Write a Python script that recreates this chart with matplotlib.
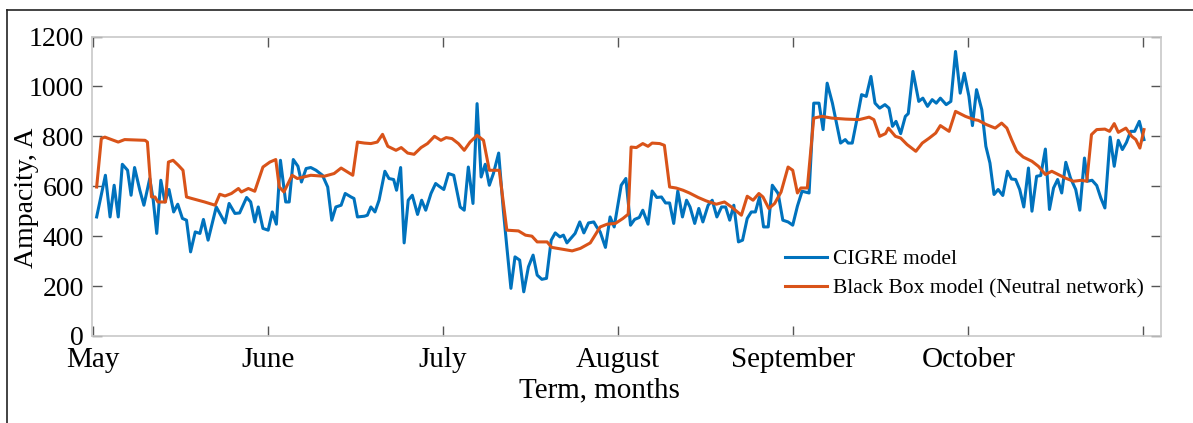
import matplotlib
matplotlib.use("Agg")
import matplotlib.pyplot as plt
from matplotlib.lines import Line2D

plt.rcParams["font.family"] = ["Liberation Serif", "DejaVu Serif"]

# day index from 1 May, ampacity in A
cigre_days = [
    0.6, 2.1, 2.9, 3.6, 4.3, 5.0, 5.9, 6.5, 7.1, 8.0, 8.7, 9.7, 10.3, 10.9, 11.6,
    12.3, 13.0, 13.8, 14.5, 15.3, 16.0, 16.7, 17.5, 18.3, 18.9, 19.7, 21.1, 22.6,
    23.3, 24.3, 25.1, 26.3, 27.0, 27.7, 28.3, 29.1, 30.0, 30.7, 31.4, 32.1, 32.5,
    33.0, 33.6, 34.3, 35.1, 35.7, 36.5, 37.3, 38.2, 39.3, 40.2, 40.9, 41.6, 42.5,
    43.2, 44.2, 44.7, 45.3, 46.5, 47.0, 47.6, 48.3, 49.0, 50.0, 50.7, 51.5, 52.0,
    52.7, 53.3, 54.0, 54.7, 55.6, 56.3, 57.0, 57.9, 58.7, 59.3, 60.1, 60.9, 61.8,
    62.9, 63.6, 64.3, 65.1, 65.8, 66.5, 67.2, 67.9, 68.6, 69.5, 70.3, 70.9, 71.6,
    72.3, 73.1, 73.8, 74.6, 75.4, 76.1, 76.9, 77.7, 78.5, 79.2, 80.0, 80.6, 81.2,
    82.1, 82.6, 83.4, 84.1, 84.9, 85.8, 86.3, 86.9, 87.8, 88.6, 89.3, 90.5, 91.3,
    92.1, 92.8, 93.6, 94.2, 95.1, 95.8, 96.6, 97.4, 98.1, 98.8, 99.5, 100.2, 101.0,
    101.7, 102.3, 103.1, 103.8, 104.5, 105.4, 106.1, 106.9, 107.7, 108.4, 109.1,
    109.8, 110.6, 111.3, 112.1, 112.8, 113.5, 114.2, 114.9, 115.7, 116.4, 117.4,
    118.2, 119.1, 119.9, 120.7, 121.5, 122.7, 123.5, 124.4, 125.1, 125.8, 126.7,
    127.4, 128.1, 128.9, 129.4, 130.1, 131.0, 131.7, 132.5, 133.3, 134.0, 134.8,
    135.7, 136.4, 137.0, 137.6, 138.4, 139.2, 139.7, 140.5, 141.5, 142.2, 143.0,
    143.8, 144.5, 145.2, 146.2, 147.0, 147.8, 148.6, 149.3, 150.1, 150.7, 151.4,
    152.3, 153.0, 153.7, 154.4, 155.1, 155.9, 156.7, 157.4, 158.1, 158.8, 159.5,
    160.3, 160.9, 161.7, 162.4, 163.2, 163.9, 164.6, 165.3, 166.0, 166.7, 167.5,
    168.4, 169.1, 169.9, 170.4, 171.2, 172.0, 172.7, 173.4, 174.3, 175.0, 175.7,
    176.4, 177.1, 177.8, 178.5, 179.3, 180.1,
]
cigre_values = [
    477, 644, 477, 604, 477, 688, 664, 564, 675, 584, 524, 631, 544, 411, 624,
    537, 587, 497, 528, 471, 464, 337, 417, 411, 467, 384, 517, 453,
    531, 491, 493, 555, 537, 457, 517, 431, 424, 497, 448, 704, 631,
    537, 537, 707, 680, 617, 671, 675, 664, 644, 597, 464, 517, 524,
    571, 557, 551, 477, 480, 484, 517, 497, 544, 660, 631, 627, 584,
    675, 373, 544, 564, 487, 544, 504, 571, 611, 600, 587, 651, 644,
    517, 504, 677, 531, 931, 637, 688, 604, 651, 733, 504, 357, 191,
    317, 304, 177, 277, 324, 244, 227, 231, 384, 413, 397, 404, 373,
    397, 411, 457, 413, 453, 457, 437, 417, 355, 477, 437, 604, 631,
    444, 467, 475, 504, 448, 581, 555, 557, 533, 533, 451, 581, 477,
    544, 517, 451, 511, 457, 524, 544, 477, 517, 517, 464,
    524, 377, 384, 471, 497, 497, 557, 437, 437, 604, 571,
    464, 457, 444, 520, 580, 573, 933, 933, 827, 1013, 933,
    853, 773, 787, 773, 773, 880, 967, 960, 1040, 933, 913,
    927, 913, 840, 860, 811, 880, 891, 1060, 940, 953, 920,
    947, 933, 953, 927, 940, 1140, 973, 1053, 960, 843, 987,
    907, 760, 693, 567, 587, 563, 660, 629, 627, 587, 517,
    673, 500, 640, 643, 749, 507, 593, 627, 573, 696, 633,
    587, 504, 713, 620, 624, 603, 553, 513, 797, 680, 784,
    747, 776, 820, 820, 860, 787,
]

blackbox_days = [
    0.6, 1.4, 2.0, 4.3, 5.4, 8.9, 9.3, 10.0, 10.6, 11.1, 12.4, 12.9, 13.7, 14.6,
    15.4, 16.0, 16.9, 19.1, 20.9, 21.7, 22.6, 23.7, 24.9, 25.4, 26.6, 27.7, 29.1,
    30.3, 31.3, 31.9, 32.7, 34.1, 35.0, 37.3, 39.6, 41.3, 42.5, 44.5, 45.3, 46.5,
    47.6, 48.7, 49.6, 50.5, 51.9, 52.8, 53.9, 55.0, 56.2, 57.3, 58.5, 59.6, 60.5,
    61.5, 62.6, 63.6, 64.6, 65.8, 66.9, 67.9, 69.6, 70.9, 72.9, 74.1, 75.2, 76.1,
    77.8, 78.6, 80.6, 82.1, 83.5, 85.2, 86.9, 88.1, 89.5, 90.8, 91.7, 92.2, 93.1,
    94.2, 95.1, 95.8, 97.1, 97.9, 98.8, 99.9, 101.1, 102.2, 103.7, 105.1, 106.8,
    108.2, 109.4, 111.1, 112.1, 113.1, 114.1, 114.8, 115.8, 116.8, 117.9, 119.1,
    119.9, 120.7, 121.3, 122.4, 123.5, 124.9, 126.6, 129.0, 131.3, 133.0, 133.8,
    134.8, 135.8, 136.3, 137.5, 138.4, 139.5, 141.0, 142.1, 143.3, 144.4, 145.2,
    146.7, 147.8, 149.5, 151.0, 151.7, 153.1, 154.6, 155.7, 156.6, 157.4, 158.3,
    159.4, 160.9, 162.0, 163.2, 164.3, 165.4, 166.6, 168.0, 169.4, 170.3, 171.1,
    172.0, 173.4, 174.2, 175.0, 175.7, 177.0, 178.0, 178.7, 179.4, 180.1,
]
blackbox_values = [
    597, 791, 797, 777, 787, 784, 777, 557, 557, 537, 537, 697, 704, 684,
    664, 557, 551, 537, 524, 568, 561, 571, 591, 577, 591, 580, 677,
    697, 707, 597, 577, 644, 631, 644, 640, 651, 673, 644, 777, 773,
    771, 777, 808, 760, 744, 755, 733, 728, 755, 771, 800, 784, 795,
    791, 771, 744, 777, 804, 784, 664, 664, 424, 421, 404, 400, 377,
    377, 355, 347, 341, 351, 373, 437, 448, 451, 471, 488, 757, 755,
    771, 760, 773, 771, 764, 597, 593, 584, 573, 555, 541, 528,
    537, 517, 484, 560, 544, 571, 557, 511, 531, 577, 677,
    664, 573, 593, 593, 873, 880, 873, 869, 867, 877, 867,
    800, 811, 833, 800, 793, 767, 740, 773, 793, 813, 843,
    820, 900, 880, 867, 864, 847, 833, 853, 833, 787, 740,
    717, 700, 680, 647, 660, 647, 633, 620, 624, 620, 807,
    827, 829, 820, 851, 816, 833, 800, 787, 753, 827,
]

month_ticks = [0, 30, 60, 90, 120, 150, 180]
month_labels = ["May", "June", "July", "August", "September", "October", ""]
y_ticks = [0, 200, 400, 600, 800, 1000, 1200]

fig = plt.figure(figsize=(11.93, 4.23), dpi=100)
ax = fig.add_axes([0.0771, 0.2057, 0.896, 0.708])

ax.plot(cigre_days, cigre_values, color="#0072BD", lw=2.2, label="CIGRE model")
ax.plot(blackbox_days, blackbox_values, color="#D95319", lw=2.2,
        label="Black Box model (Neutral network)")

ax.set_xlim(-0.2, 183)
ax.set_ylim(0, 1200)
ax.set_xticks(month_ticks)
ax.set_xticklabels(month_labels)
ax.set_yticks(y_ticks)
ax.tick_params(direction="in", length=7, width=1, color="#555555",
               top=True, right=True)
ax.tick_params(axis="x", labelsize=21, pad=8)
ax.tick_params(axis="y", labelsize=20, pad=6)
for sp in ax.spines.values():
    sp.set_color("#c8c8c8")
    sp.set_linewidth(1.2)

ax.set_xlabel("Term, months", fontsize=21)
ax.xaxis.set_label_coords(0.475, -0.138)
ax.set_ylabel("Ampacity, A", fontsize=20)
ax.yaxis.set_label_coords(-0.05, 0.463)

ax.legend(loc="upper left", bbox_to_anchor=(0.648, 0.29), frameon=False,
          fontsize=15.5, handlelength=1.95, handletextpad=0.3,
          labelspacing=0.45, borderpad=0, borderaxespad=0)

# outer frame (top and left edges)
fig.add_artist(Line2D([7 / 1193, 1], [1 - 10 / 423, 1 - 10 / 423],
                      transform=fig.transFigure, color="#222222", lw=1.2))
fig.add_artist(Line2D([7 / 1193, 7 / 1193], [0, 1 - 10 / 423],
                      transform=fig.transFigure, color="#222222", lw=1.2))

fig.savefig("out.png", dpi=100)
plt.close(fig)
